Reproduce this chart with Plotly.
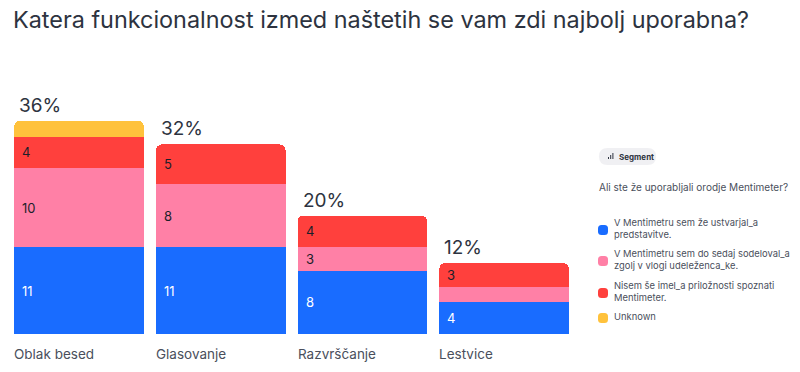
import plotly.graph_objects as go

categories = ["Oblak besed", "Glasovanje", "Razvrščanje", "Lestvice"]
percent_labels = ["36%", "32%", "20%", "12%"]
series_names = [
    "V Mentimetru sem že ustvarjal_a<br>predstavitve.",
    "V Mentimetru sem do sedaj sodeloval_a<br>zgolj v vlogi udeleženca_ke.",
    "Nisem še imel_a priložnosti spoznati<br>Mentimeter.",
    "Unknown",
]
creators = [11, 11, 8, 4]
participants = [10, 8, 3, 2]
never_used = [4, 5, 4, 3]
unknown = [2, 0, 0, 0]
series_values = [creators, participants, never_used, unknown]
colors = ["#196cff", "#ff80a6", "#ff403d", "#ffc23c"]
label_colors = ["#ffffff", "#1b1f2a", "#1b1f2a", "#1b1f2a"]
legend_title = "Ali ste že uporabljali orodje Mentimeter?"
title = "Katera funkcionalnost izmed naštetih se vam zdi najbolj uporabna?"

FONT = "Inter"
xs = list(range(len(categories)))
W = 0.915

fig = go.Figure()
for name, vals, col in zip(series_names, series_values, colors):
    fig.add_trace(go.Bar(x=xs, y=vals, width=W, name=name.replace("<br>", " "),
                         marker=dict(color=col, line=dict(width=0)),
                         showlegend=False, hoverinfo="skip"))

annotations = []
totals = [sum(v[i] for v in series_values) for i in xs]
for i in xs:
    base = 0
    for vals, lc in zip(series_values, label_colors):
        v = vals[i]
        if v >= 3:
            annotations.append(dict(x=i - W / 2, y=base + v / 2, text=str(v), showarrow=False,
                                    xanchor="left", yanchor="middle", xshift=6,
                                    font=dict(family=FONT, size=13, color=lc)))
        base += v
    annotations.append(dict(x=i - W / 2, y=totals[i], text=percent_labels[i], showarrow=False,
                            xanchor="left", yanchor="bottom", xshift=3, yshift=2,
                            font=dict(family=FONT, size=19, color="#2d3340")))
    annotations.append(dict(x=i - W / 2, y=0, text=categories[i], showarrow=False,
                            xanchor="left", yanchor="top", xshift=-2, yshift=-10,
                            font=dict(family=FONT, size=13.5, color="#4a4f5c")))

annotations.append(dict(xref="paper", yref="paper", x=11 / 580, y=1, text=title, showarrow=False,
                        xanchor="left", yanchor="bottom", yshift=24,
                        font=dict(family=FONT, size=23.4, color="#2d3340")))

# helpers: pixel -> paper coords (plot area is x 0..580, y 60..334)
px = lambda p: p / 580.0
py = lambda p: (334 - p) / 274.0


def rrect(x0, y0, x1, y1, r):
    return (f"M {px(x0 + r)},{py(y0)} L {px(x1 - r)},{py(y0)} Q {px(x1)},{py(y0)} {px(x1)},{py(y0 + r)} "
            f"L {px(x1)},{py(y1 - r)} Q {px(x1)},{py(y1)} {px(x1 - r)},{py(y1)} "
            f"L {px(x0 + r)},{py(y1)} Q {px(x0)},{py(y1)} {px(x0)},{py(y1 - r)} "
            f"L {px(x0)},{py(y0 + r)} Q {px(x0)},{py(y0)} {px(x0 + r)},{py(y0)} Z")


# Segment pill
shapes = [dict(type="path", xref="paper", yref="paper", path=rrect(599, 148, 656, 165, 8.5),
               fillcolor="#f0f0f3", line=dict(width=0), layer="below")]
for k, h in enumerate([2, 4, 6]):
    shapes.append(dict(type="rect", xref="paper", yref="paper", x0=px(608 + 2.2 * k), x1=px(609 + 2.2 * k),
                       y0=py(159), y1=py(159 - h), fillcolor="#2d3340", line=dict(width=0)))
annotations.append(dict(xref="paper", yref="paper", x=px(617), y=py(156.5), text="<b>Segment</b>",
                        showarrow=False, xanchor="left", yanchor="middle",
                        font=dict(family=FONT, size=8, color="#2d3340")))

# Legend (drawn manually to match layout)
annotations.append(dict(xref="paper", yref="paper", x=px(597), y=py(187), text=legend_title,
                        showarrow=False, xanchor="left", yanchor="middle",
                        font=dict(family=FONT, size=10, color="#4a4f5c")))
legend_y = [230, 261, 293, 318]
for name, col, yc in zip(series_names, colors, legend_y):
    shapes.append(dict(type="path", xref="paper", yref="paper", path=rrect(598, yc - 5, 608, yc + 5, 3.5),
                       fillcolor=col, line=dict(width=0)))
    annotations.append(dict(xref="paper", yref="paper", x=px(612), y=py(yc - 1.5), text=name,
                            showarrow=False, xanchor="left", yanchor="middle", align="left",
                            font=dict(family=FONT, size=9.4, color="#4a4f5c")))

fig.update_layout(
    width=800, height=372,
    margin=dict(l=0, r=220, t=60, b=38, autoexpand=False),
    barmode="stack", barcornerradius=6,
    plot_bgcolor="white", paper_bgcolor="white",
    xaxis=dict(range=[-0.5575, 3.5357], visible=False, fixedrange=True),
    yaxis=dict(range=[0, 274 / 7.9], visible=False, fixedrange=True),
    annotations=annotations, shapes=shapes,
    showlegend=False,
    font=dict(family=FONT),
)
fig.write_html("out.html", config={"displayModeBar": False},
               post_script="document.body.style.margin='0';document.body.style.overflow='hidden';")
